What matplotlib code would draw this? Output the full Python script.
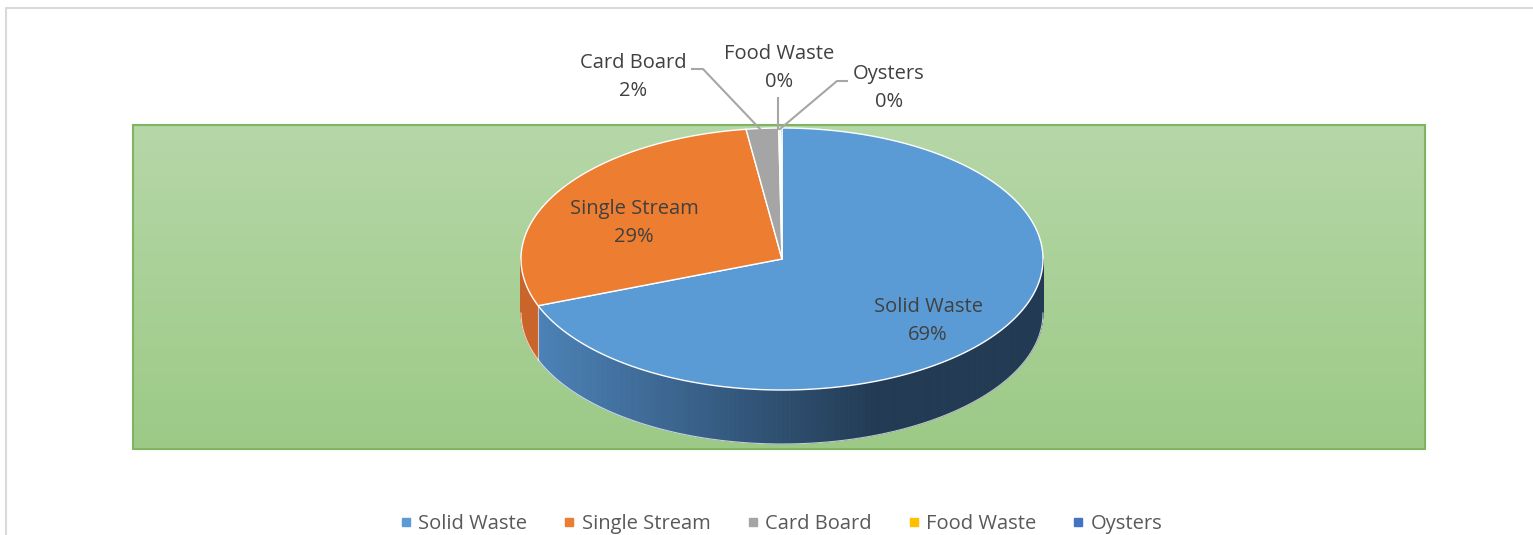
import numpy as np
import matplotlib.pyplot as plt
from matplotlib.patches import Polygon, Rectangle
from matplotlib.lines import Line2D
from matplotlib.colors import to_rgb

plt.rcParams['font.family'] = ['Open Sans', 'DejaVu Sans']

# data
categories = ['Solid Waste', 'Single Stream', 'Card Board', 'Food Waste', 'Oysters']
values = [69.2, 28.6, 2.0, 0.1, 0.1]
colors = ['#5B9BD5', '#ED7D31', '#A5A5A5', '#FFC000', '#4472C4']

# label positions (screen px) and leader lines
label_pos = [(928, 321), (634, 223), (633, 77), (779, 68), (889, 88)]
leaders = {
    2: [(692, 69), (703, 69), (760, 129)],
    3: [(778, 98), (778, 129)],
    4: [(847, 81), (837, 81), (780, 129)],
}

W, H = 1533, 535
fig = plt.figure(figsize=(W / 100, H / 100), dpi=100)
ax = fig.add_axes([0, 0, 1, 1])
ax.set_xlim(0, W)
ax.set_ylim(H, 0)
ax.axis('off')

# chart border (cropped)
ax.plot([6, 6, W], [H, 8, 8], color='#d9d9d9', lw=1.5, zorder=1)

# plot area with gradient
px0, py0, px1, py1 = 133, 125, 1425, 449
top_c = np.array(to_rgb('#b6d7a8'))
bot_c = np.array(to_rgb('#9cca86'))
tt = np.linspace(0, 1, 200)[:, None]
grad = (top_c * (1 - tt) + bot_c * tt)[:, None, :]
ax.imshow(grad, extent=(px0, px1, py1, py0), aspect='auto', zorder=2)
ax.add_patch(Rectangle((px0, py0), px1 - px0, py1 - py0, fill=False,
                       edgecolor='#80b560', lw=1.5, zorder=3))

# pie geometry
cx, cy, rx, ry, depth = 782, 259, 261, 131, 54


def pt(t, dy=0.0):
    r = np.radians(t)
    return cx + rx * np.cos(r), cy - ry * np.sin(r) + dy


def blue_side(x):
    a = np.array(to_rgb('#4c82b8'))
    b = np.array(to_rgb('#223a53'))
    f = np.clip((x - 537) / (880 - 537), 0, 1)
    return a * (1 - f) + b * f


def orange_side(x):
    return np.array(to_rgb('#c9652b'))


side_fn = {0: blue_side, 1: orange_side}

total = sum(values)
cum = np.concatenate([[0], np.cumsum(values)]) / total
starts = 90 - 360 * cum[:-1]
ends = 90 - 360 * cum[1:]

# side walls (front half only)
for i in range(len(values)):
    t0, t1 = ends[i], starts[i]
    # normalise so the visible range is [-180, 0]
    for shift in (0, -360, 360):
        a, b = max(t0 + shift, -180), min(t1 + shift, 0)
        if a >= b:
            continue
        ts = np.linspace(a, b, int((b - a) * 2) + 2)
        fn = side_fn.get(i, lambda x, c=colors[i]: np.array(to_rgb(c)) * 0.8)
        for k in range(len(ts) - 1):
            xa, ya = pt(ts[k])
            xb, yb = pt(ts[k + 1])
            quad = [(xa, ya), (xb, yb), (xb, yb + depth), (xa, ya + depth)]
            c = fn((xa + xb) / 2)
            ax.add_patch(Polygon(quad, closed=True, facecolor=c,
                                 edgecolor=c, lw=0.6, zorder=4))
        bt = np.linspace(a, b, 200)
        bx, by = pt(bt, depth)
        ax.plot(bx, by, color='white', lw=0.8, alpha=0.7, zorder=5)

# vertical seam where solid/single meet on the side
sx, sy = pt(starts[1])
ax.plot([sx, sx], [sy, sy + depth], color='white', lw=0.8, alpha=0.6, zorder=5)

# top faces
for i in range(len(values)):
    ts = np.linspace(starts[i], ends[i], max(int(abs(starts[i] - ends[i]) * 2), 2))
    xs, ys = pt(ts)
    poly = [(cx, cy)] + list(zip(xs, ys))
    ax.add_patch(Polygon(poly, closed=True, facecolor=colors[i],
                         edgecolor='white', lw=1.0, joinstyle='round', zorder=6))

# data labels
for i, (lx, ly) in enumerate(label_pos):
    pct = round(100 * values[i] / total)
    ax.text(lx, ly, f'{categories[i]}\n{pct}%', ha='center', va='center',
            fontsize=14.5, color='#404040', linespacing=1.55, zorder=8)

for i, pts in leaders.items():
    xs, ys = zip(*pts)
    ax.plot(xs, ys, color='#a6a6a6', lw=1.5, zorder=7)

# legend
handles = [Line2D([], [], marker='s', ls='none', color=c, markersize=6) for c in colors]
ax.legend(handles, categories, loc='center', bbox_to_anchor=(779 / W, 1 - 524 / H),
          ncol=5, frameon=False, fontsize=14.5, labelcolor='#595959',
          handletextpad=0.1, columnspacing=1.6, handlelength=1.0)

fig.savefig('out.png', dpi=100)
